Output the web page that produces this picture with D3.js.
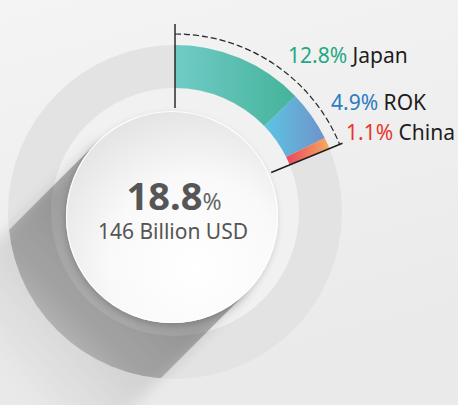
<!DOCTYPE html>
<html><head><meta charset="utf-8">
<script src="https://cdn.jsdelivr.net/npm/d3@7"></script>
<style>html,body{margin:0;padding:0;background:#f0f0f0;}svg{display:block;}</style>
</head><body>
<svg id="chart" width="458" height="405"></svg>
<script>
// ---- data ----
const categories = ["Japan", "ROK", "China"];
const shares = [12.8, 4.9, 1.1];            // percent of total
const shareLabels = ["12.8%", "4.9%", "1.1%"];
const labelColors = ["#1fa985", "#2b7cc0", "#e8352b"];
const gradStops = [["#70cbc7", "#45b39a"], ["#5cc4e4", "#6f93c8"], ["#e9485f", "#f7ac5c"]];
const totalLabel = "18.8";
const totalUnit = "%";
const subLabel = "146 Billion USD";

// ---- layout ----
const W = 458, H = 405;
const cx = 175, cy = 212;
const rOuter = 167, rInner = 124, rCore = 106;
const coreC = [172, 217];
const svg = d3.select("#chart");
const defs = svg.append("defs");

const ang = d3.scaleLinear().domain([0, 100]).range([0, 2 * Math.PI]);
const total = d3.sum(shares);

// background
const bg = defs.append("linearGradient").attr("id", "bg").attr("x1", 0).attr("y1", 0).attr("x2", 0.3).attr("y2", 1);
bg.append("stop").attr("offset", 0).attr("stop-color", "#f4f4f4");
bg.append("stop").attr("offset", 1).attr("stop-color", "#eaeaea");
svg.append("rect").attr("width", W).attr("height", H).attr("fill", "url(#bg)");

defs.append("clipPath").attr("id", "ringClip").append("circle").attr("r", rOuter);
const g = svg.append("g").attr("transform", `translate(${cx},${cy})`);
const ringLayer = g.append("g");
const softShadowLayer = g.append("g");
const shadowLayer = g.append("g").attr("clip-path", "url(#ringClip)");
const segLayer = g.append("g");
const coreLayer = g.append("g");
const lineLayer = g.append("g");

// rings
ringLayer.append("circle").attr("r", rOuter).attr("fill", "#e3e3e3");
ringLayer.append("circle").attr("r", rInner).attr("fill", "#f1f1f1");

// long shadow
const d = [-Math.SQRT1_2, Math.SQRT1_2], n = [Math.SQRT1_2, Math.SQRT1_2];
const ox = coreC[0] - cx, oy = coreC[1] - cy;
const L = 260;
const p1 = [ox + rCore * n[0], oy + rCore * n[1]];
const p2 = [ox - rCore * n[0], oy - rCore * n[1]];
const p3 = [p2[0] + L * d[0], p2[1] + L * d[1]];
const p4 = [p1[0] + L * d[0], p1[1] + L * d[1]];
const sg = defs.append("linearGradient").attr("id", "shadowGrad").attr("gradientUnits", "userSpaceOnUse")
  .attr("x1", ox).attr("y1", oy).attr("x2", ox + 230 * d[0]).attr("y2", oy + 230 * d[1]);
sg.append("stop").attr("offset", 0).attr("stop-color", "#000").attr("stop-opacity", 0.30);
sg.append("stop").attr("offset", 0.6).attr("stop-color", "#000").attr("stop-opacity", 0.20);
sg.append("stop").attr("offset", 1).attr("stop-color", "#000").attr("stop-opacity", 0.02);
defs.append("filter").attr("id", "blur").attr("x", -0.3).attr("y", -0.3).attr("width", 1.6).attr("height", 1.6)
  .append("feGaussianBlur").attr("stdDeviation", 7);
const shadowPath = "M" + [p1, p2, p3, p4].map(p => p.join(",")).join("L") + "Z";
softShadowLayer.append("path").attr("d", shadowPath).attr("fill", "url(#shadowGrad)").attr("opacity", 0.5).attr("filter", "url(#blur)");
shadowLayer.append("path").attr("d", shadowPath).attr("fill", "url(#shadowGrad)");

// segments
const pie = d3.pie().sort(null).value(v => v).startAngle(0).endAngle(ang(total));
const arcs = pie(shares);
const arc = d3.arc().innerRadius(rInner).outerRadius(rOuter);
arcs.forEach((a, i) => {
  const pts = [a.startAngle, a.endAngle].flatMap(t => [rInner, rOuter].map(r => [r * Math.sin(t), -r * Math.cos(t)]));
  const xs = pts.map(p => p[0]);
  const lg = defs.append("linearGradient").attr("id", "seg" + i).attr("gradientUnits", "userSpaceOnUse")
    .attr("x1", d3.min(xs)).attr("y1", 0).attr("x2", d3.max(xs)).attr("y2", 0);
  lg.append("stop").attr("offset", 0).attr("stop-color", gradStops[i][0]);
  lg.append("stop").attr("offset", 1).attr("stop-color", gradStops[i][1]);
});
segLayer.selectAll("path.seg").data(arcs).join("path").attr("class", "seg")
  .attr("d", arc).attr("fill", (a, i) => `url(#seg${i})`);

// core circle
const cg = defs.append("radialGradient").attr("id", "core").attr("cx", 0.6).attr("cy", 0.7).attr("r", 0.75)
  .attr("fx", 0.62).attr("fy", 0.75);
cg.append("stop").attr("offset", 0).attr("stop-color", "#ffffff");
cg.append("stop").attr("offset", 0.55).attr("stop-color", "#f9f9f9");
cg.append("stop").attr("offset", 1).attr("stop-color", "#e2e2e2");
const ds = defs.append("filter").attr("id", "coreShadow").attr("x", -0.2).attr("y", -0.2).attr("width", 1.4).attr("height", 1.4);
ds.append("feDropShadow").attr("dx", -1).attr("dy", 3).attr("stdDeviation", 3).attr("flood-color", "#000").attr("flood-opacity", 0.18);
coreLayer.append("circle").attr("cx", ox).attr("cy", oy).attr("r", rCore).attr("fill", "url(#core)").attr("filter", "url(#coreShadow)");
coreLayer.append("circle").attr("cx", ox).attr("cy", oy).attr("r", rCore - 0.5).attr("fill", "none")
  .attr("stroke", "#ffffff").attr("stroke-width", 1.2).attr("stroke-opacity", 0.9);

// dashed bracket arc and radial ticks
const endA = ang(total);
lineLayer.append("path").attr("d", d3.arc().innerRadius(178).outerRadius(178).startAngle(0).endAngle(endA)())
  .attr("fill", "none").attr("stroke", "#2a2a2a").attr("stroke-width", 1.2).attr("stroke-dasharray", "5,4");
const radial = (t, r0, r1) => [[r0 * Math.sin(t), -r0 * Math.cos(t)], [r1 * Math.sin(t), -r1 * Math.cos(t)]];
[[0, 104, 188], [endA, 104, 181]].forEach(([t, r0, r1]) => {
  lineLayer.append("path").attr("d", d3.line()(radial(t, r0, r1))).attr("stroke", "#1e1e1e").attr("stroke-width", 1.4);
});

// labels
const labelPos = [[288, 63], [331, 110], [346, 140]];
const font = "'Noto Sans', 'Open Sans', sans-serif";
categories.forEach((c, i) => {
  const t = svg.append("text").attr("x", labelPos[i][0]).attr("y", labelPos[i][1])
    .attr("font-family", font).attr("font-size", 21);
  t.append("tspan").attr("fill", labelColors[i]).text(shareLabels[i]);
  t.append("tspan").attr("fill", "#1e1e1e").text(" " + c);
});

// center text
const ct = svg.append("text").attr("x", 174).attr("y", 210).attr("text-anchor", "middle").attr("font-family", font);
ct.append("tspan").attr("font-size", 38).attr("font-weight", 700).attr("fill", "#565656").text(totalLabel);
ct.append("tspan").attr("font-size", 23).attr("fill", "#666").text(totalUnit);
svg.append("text").attr("x", 173).attr("y", 239).attr("text-anchor", "middle").attr("font-family", font)
  .attr("font-size", 21).attr("fill", "#555").text(subLabel);
</script>
</body></html>
